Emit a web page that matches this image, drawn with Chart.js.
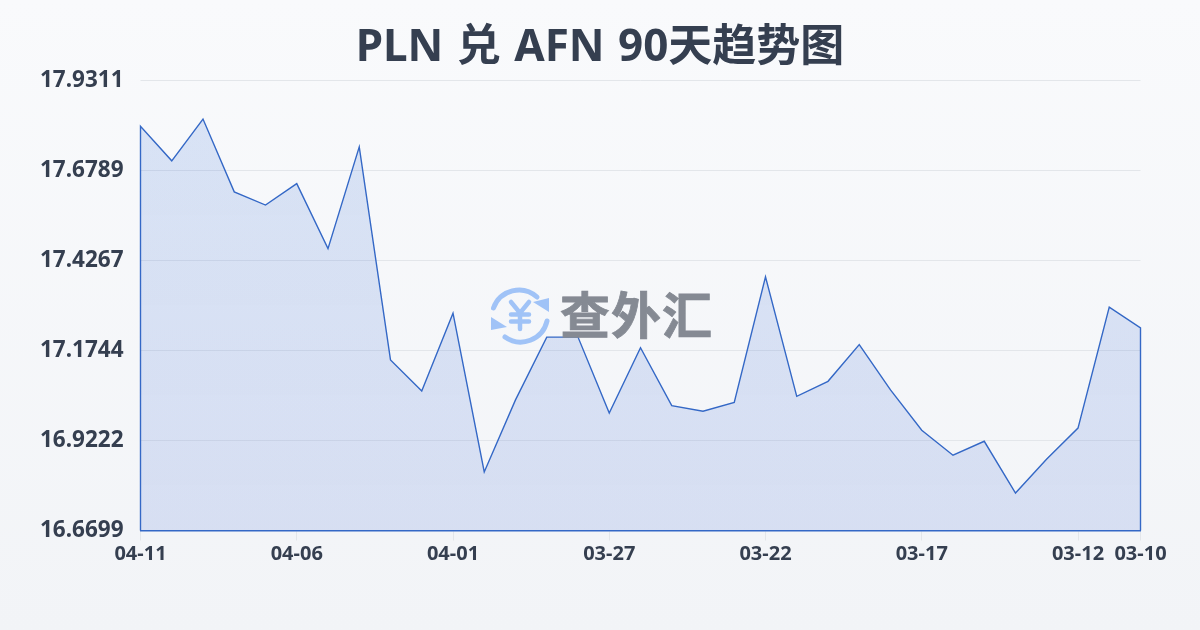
<!DOCTYPE html>
<html lang="zh">
<head>
<meta charset="UTF-8">
<title>PLN 兑 AFN 90天趋势图</title>
<script src="https://cdn.jsdelivr.net/npm/chart.js@4"></script>
<style>
    html, body { margin: 0; padding: 0; }
    body {
        width: 1200px;
        height: 630px;
        overflow: hidden;
        position: relative;
        background: linear-gradient(180deg, #f9fafc 0%, #f2f4f7 100%);
    }
    #chart { position: absolute; left: 0; top: 0; }
    #watermark { position: absolute; left: 488px; top: 284px; }
</style>
</head>
<body>
<canvas id="chart" width="1200" height="630"></canvas>
<!-- logo watermark -->
<svg id="watermark" width="230" height="62" viewBox="0 0 230 62">
    <g fill="none" stroke="#a0c3f7" stroke-width="5" stroke-linecap="round">
        <path d="M5.5 24 A27 27 0 0 1 49 13"/>
        <path d="M59 37 A27 27 0 0 1 17 53"/>
        <path d="M23 18 L32 29 L41 18 M32 29 V45 M23 30.5 H41 M23 37.5 H41" stroke-width="4.5"/>
    </g>
    <path d="M61 14 L61 28 L45 18 Z M3 33 L3 46 L19 43 Z" fill="#a0c3f7"/>
    <text x="72" y="50" font-family="'Noto Sans CJK SC'" font-weight="700" font-size="50" fill="#858a93" stroke="#858a93" stroke-width="0.8" textLength="152">查外汇</text>
</svg>
<script>
const titleText = 'PLN 兑 AFN 90天趋势图';
const dates = ['04-11','04-10','04-09','04-08','04-07','04-06','04-05','04-04','04-03','04-02','04-01',
    '03-31','03-30','03-29','03-28','03-27','03-26','03-25','03-24','03-23','03-22',
    '03-21','03-20','03-19','03-18','03-17','03-16','03-15','03-14','03-13','03-12','03-11','03-10'];
const rates = [17.803,17.706,17.823,17.619,17.582,17.642,17.460,17.745,17.148,17.061,17.279,
    16.834,17.036,17.212,17.212,16.999,17.182,17.020,17.004,17.029,17.381,
    17.046,17.088,17.191,17.064,16.951,16.881,16.920,16.775,16.870,16.957,17.296,17.238];
const xTickIndexes = [0,5,10,15,20,25,30,32];
const yTicks = [16.6699,16.9222,17.1744,17.4267,17.6789,17.9311];

const textColor = '#353f50';
const ctx = document.getElementById('chart').getContext('2d');

const fillGrad = ctx.createLinearGradient(0, 80, 0, 530);
fillGrad.addColorStop(0, 'rgba(59,116,220,0.17)');
fillGrad.addColorStop(1, 'rgba(59,100,210,0.15)');

// outline runs down the left side and up the right side, the x axis border closes it
const yMin = yTicks[0];
const yMax = yTicks[yTicks.length - 1];
const last = rates.length - 1;
const outline = [{ x: 0, y: yMin }]
    .concat(rates.map((v, i) => ({ x: i, y: v })))
    .concat([{ x: last, y: yMin }]);

// title centred on the page, not on the padded area
const pageTitle = {
    id: 'pageTitle',
    afterLayout(chart) {
        chart.titleBlock.left = 0;
        chart.titleBlock.right = chart.width;
        chart.titleBlock.width = chart.width;
    },
    beforeDraw(chart) {
        chart.ctx.wordSpacing = '2px';
    },
    afterDatasetsDraw(chart) {
        chart.ctx.wordSpacing = '0px';
    }
};

new Chart(ctx, {
    type: 'line',
    plugins: [pageTitle],
    data: {
        datasets: [{
            data: outline,
            borderColor: '#3468c6',
            borderWidth: 1.4,
            backgroundColor: fillGrad,
            fill: true,
            clip: 4,
            pointRadius: 0,
            tension: 0
        }]
    },
    options: {
        responsive: false,
        animation: false,
        layout: { autoPadding: false, padding: { right: 59.5 } },
        plugins: {
            legend: { display: false },
            tooltip: { enabled: false },
            title: {
                display: true,
                text: titleText,
                color: textColor,
                font: { family: "'Noto Sans', 'Noto Sans CJK SC'", size: 44, weight: '700', lineHeight: 1.2 },
                padding: { top: 22, bottom: 5.7 }
            }
        },
        scales: {
            x: {
                type: 'linear',
                min: 0,
                max: last,
                afterBuildTicks: axis => { axis.ticks = xTickIndexes.map(v => ({ value: v })); },
                afterFit: axis => { axis.height = 99.5; },
                border: { display: true, color: '#3468c6', width: 1.4 },
                grid: { drawOnChartArea: false, tickLength: 10, tickColor: '#e3e6ea', lineWidth: 1 },
                ticks: {
                    autoSkip: false,
                    maxRotation: 0,
                    padding: 2,
                    color: textColor,
                    font: { family: "'Noto Sans'", size: 20, weight: '700' },
                    callback: v => dates[v]
                }
            },
            y: {
                min: yMin,
                max: yMax,
                afterBuildTicks: axis => { axis.ticks = yTicks.map(v => ({ value: v })); },
                afterFit: axis => { axis.width = 140.5; },
                border: { display: false },
                grid: { color: '#e3e6ea', lineWidth: 1, tickLength: 0 },
                ticks: {
                    padding: 17,
                    color: textColor,
                    font: { family: "'Noto Sans'", size: 22.5, weight: '700' },
                    callback: v => v.toFixed(4)
                }
            }
        }
    }
});
</script>
</body>
</html>
